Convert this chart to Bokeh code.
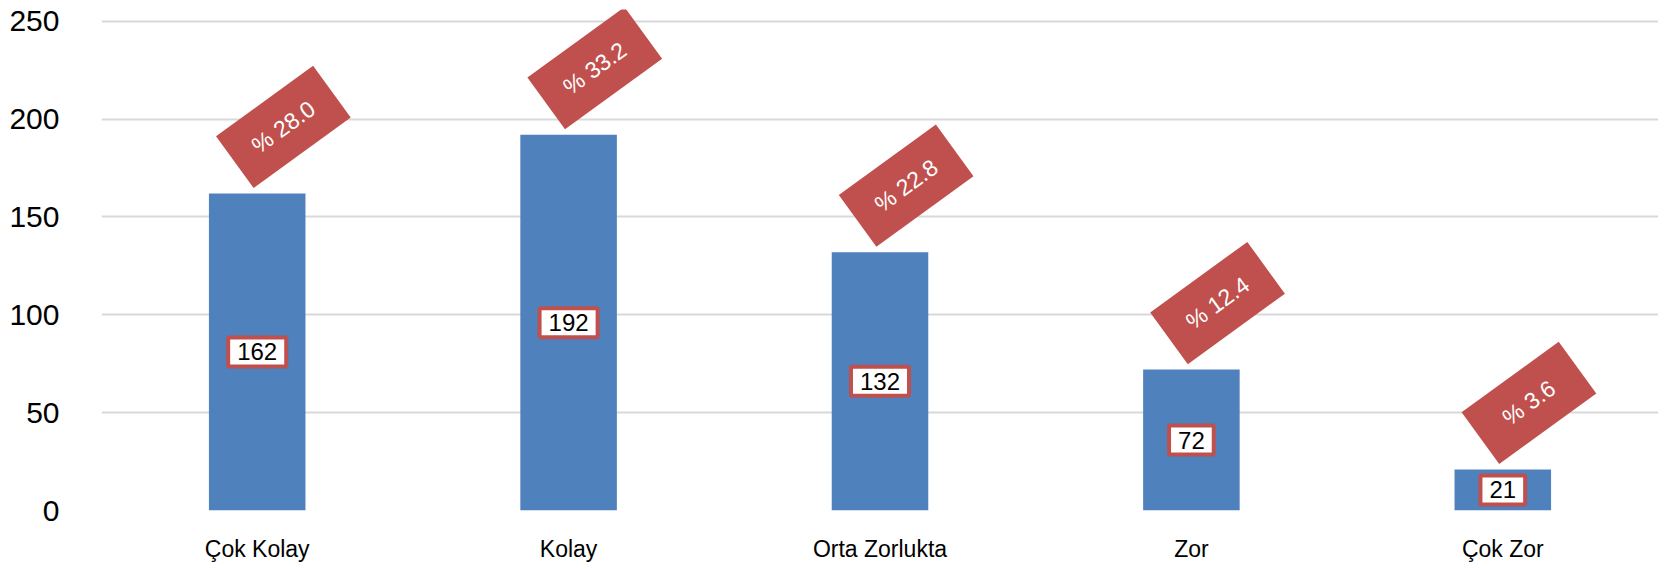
from bokeh.plotting import figure
from bokeh.models import ColumnDataSource, FixedTicker
from bokeh.transform import dodge
from bokeh.core.properties import value
from bokeh.embed import file_html
from bokeh.resources import INLINE

categories = ["Çok Kolay", "Kolay", "Orta Zorlukta", "Zor", "Çok Zor"]
counts = [162, 192, 132, 72, 21]
percents = [28.0, 33.2, 22.8, 12.4, 3.6]
y_ticks = [0, 50, 100, 150, 200, 250]

BLUE = "#4F81BD"
RED = "#C0504D"

source = ColumnDataSource(dict(
    cat=categories,
    val=counts,
    half=[c / 2 for c in counts],
    lab_y=[c + 34 for c in counts],
    pct=[f"% {p:.1f}" for p in percents],
    cnt=[str(c) for c in counts],
))

p = figure(x_range=categories, y_range=(0, 256), width=1658, height=564,
           output_backend="svg", toolbar_location=None,
           min_border_left=101, min_border_right=0, min_border_top=9, min_border_bottom=52)

p.vbar(x="cat", top="val", width=0.31, source=source, fill_color=BLUE, line_color=None)

# rotated percentage labels
xl = dodge("cat", 0.084, range=p.x_range)
p.rect(x=xl, y="lab_y", width=120, height=64, width_units="screen", height_units="screen",
       angle=0.628, fill_color=RED, line_color=None, source=source)
p.text(x=xl, y="lab_y", text="pct", angle=0.628, text_align="center", text_baseline="middle",
       text_color="white", text_font_size="23px", text_font=value("Liberation Sans"), source=source)

# count boxes
p.text(x="cat", y="half", text="cnt", text_align="center", text_baseline="middle",
       text_color="black", text_font_size="24px", text_font=value("Liberation Sans"),
       background_fill_color="white", border_line_color=RED, border_line_width=4,
       padding=(9, 6), source=source)

p.outline_line_color = None
p.background_fill_color = "white"
p.xgrid.grid_line_color = None
p.ygrid.grid_line_color = "#D9D9D9"
p.ygrid.grid_line_width = 2
p.yaxis.ticker = FixedTicker(ticks=y_ticks)
for ax in (p.xaxis[0], p.yaxis[0]):
    ax.axis_line_color = None
    ax.major_tick_line_color = None
    ax.minor_tick_line_color = None
    ax.major_tick_in = 0
    ax.major_tick_out = 0
    ax.major_label_text_font = "Liberation Sans"
    ax.major_label_text_color = "black"
p.yaxis.major_label_text_font_size = "30px"
p.yaxis.major_label_standoff = 42
p.xaxis.major_label_text_font_size = "23px"
p.xaxis.major_label_standoff = 25

open("out.html", "w").write(file_html(p, INLINE))
